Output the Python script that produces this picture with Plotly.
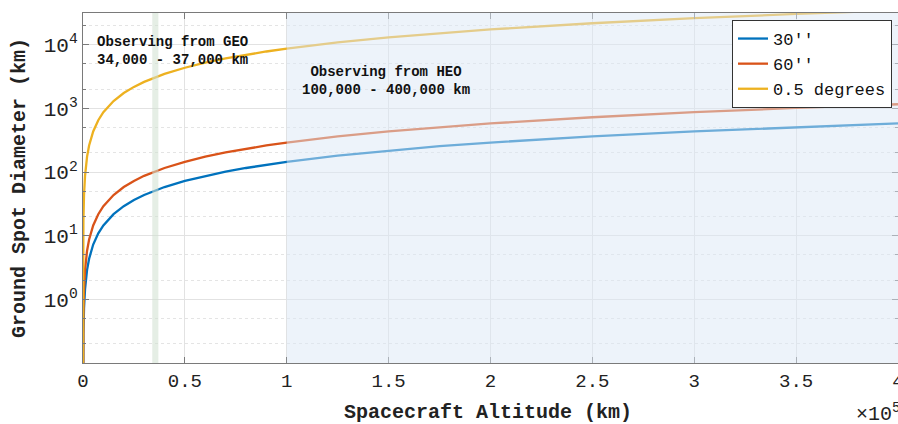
import plotly.graph_objects as go

# Spacecraft altitude samples (km)
altitude_km = [1, 2, 5, 10, 20, 50, 100, 200, 500, 1000, 2000, 3000, 5000, 7500,
               10000, 15000, 20000, 25000, 30000, 35000, 40000, 50000, 60000, 70000,
               80000, 90000, 100000, 125000, 150000, 175000, 200000, 250000, 300000,
               350000, 400000]

# Ground spot diameters (km)
diam_30arcsec = [0.00145, 0.00291, 0.00727, 0.0145, 0.0291, 0.0727, 0.145, 0.291, 0.727,
                 1.45, 2.91, 4.36, 7.27, 10.9, 14.5, 21.8, 29.1, 36.4, 43.6, 50.9, 58.2,
                 72.7, 87.3, 102, 116, 131, 145, 182, 218, 255, 291, 364, 436, 509, 582]
diam_60arcsec = [0.00291, 0.00582, 0.0145, 0.0291, 0.0582, 0.145, 0.291, 0.582, 1.45,
                 2.91, 5.82, 8.73, 14.5, 21.8, 29.1, 43.6, 58.2, 72.7, 87.3, 102, 116,
                 145, 175, 204, 233, 262, 291, 364, 436, 509, 582, 727, 873, 1018, 1164]
diam_half_deg = [0.0873, 0.175, 0.436, 0.873, 1.75, 4.36, 8.73, 17.5, 43.6, 87.3, 175,
                 262, 436, 654, 873, 1309, 1745, 2182, 2618, 3054, 3491, 4363, 5236,
                 6109, 6981, 7854, 8727, 10908, 13090, 15272, 17453, 21817, 26180,
                 30543, 34907]

series_names = ["30''", "60''", "0.5 degrees"]
series_colors = ["#0072BD", "#D95319", "#EDB120"]

x_tick_vals = [0, 50000, 100000, 150000, 200000, 250000, 300000, 350000, 400000]
x_tick_text = ["0", "0.5", "1", "1.5", "2", "2.5", "3", "3.5", "4"]
y_tick_vals = [1, 10, 100, 1000, 10000]
y_tick_text = ["10<sup>0</sup>", "10<sup>1</sup>", "10<sup>2</sup>", "10<sup>3</sup>", "10<sup>4</sup>"]

FONT = "Liberation Mono"

fig = go.Figure()
for name, ys, col in zip(series_names, [diam_30arcsec, diam_60arcsec, diam_half_deg], series_colors):
    fig.add_trace(go.Scatter(x=altitude_km, y=ys, mode="lines", name=name,
                             line=dict(color=col, width=2.3)))

# GEO band and HEO region
fig.add_shape(type="rect", xref="x", yref="paper", x0=34000, x1=37000, y0=0, y1=1,
              fillcolor="#cfe0cf", opacity=0.55, line_width=0, layer="above")
fig.add_shape(type="rect", xref="x", yref="paper", x0=100000, x1=400000, y0=0, y1=1,
              fillcolor="#dce8f5", opacity=0.5, line_width=0, layer="above")

axis_common = dict(showline=True, linecolor="#7a7a7a", linewidth=1, mirror="ticks",
                   ticks="inside", tickcolor="#7a7a7a", ticklen=6,
                   gridcolor="#e2e2e2", automargin=False, zeroline=False,
                   ticklabeloverflow="allow")

fig.update_xaxes(range=[0, 400000], tickvals=x_tick_vals, ticktext=x_tick_text,
                 tickfont=dict(family=FONT, size=19, color="#222"), **axis_common)
fig.update_yaxes(type="log", range=[-1, 4.5], tickvals=y_tick_vals, ticktext=y_tick_text,
                 tickfont=dict(family=FONT, size=21, color="#222"),
                 minor=dict(ticks="inside", ticklen=3, tickcolor="#7a7a7a", showgrid=True,
                            gridcolor="#e4e4e4", griddash="dot"),
                 **axis_common)

fig.add_annotation(text="<b>Observing from GEO<br>34,000 - 37,000 km</b>", xref="paper", yref="paper",
                   x=(95 - 83) / 815, y=(363 - 32) / 350, xanchor="left", yanchor="top",
                   align="left", showarrow=False, font=dict(family=FONT, size=14, color="#111"))
fig.add_annotation(text="<b>Observing from HEO<br>100,000 - 400,000 km</b>", xref="paper", yref="paper",
                   x=(386 - 83) / 815, y=(363 - 62) / 350, xanchor="center", yanchor="top",
                   align="center", showarrow=False, font=dict(family=FONT, size=14, color="#111"))
fig.add_annotation(text="<b>Spacecraft Altitude (km)</b>", xref="paper", yref="paper",
                   x=(488 - 83) / 815, y=-(412 - 363) / 350, xanchor="center", yanchor="middle",
                   showarrow=False, font=dict(family=FONT, size=20, color="#222"))
fig.add_annotation(text="<b>Ground Spot Diameter (km)</b>", xref="paper", yref="paper",
                   x=(19 - 83) / 815, y=(363 - 188) / 350, xanchor="center", yanchor="middle",
                   textangle=-90, showarrow=False, font=dict(family=FONT, size=20, color="#222"))
fig.add_annotation(text="×10<sup>5</sup>", xref="paper", yref="paper",
                   x=1.005, y=-(413 - 363) / 350, xanchor="right", yanchor="middle",
                   showarrow=False, font=dict(family=FONT, size=20, color="#222"))

fig.update_layout(
    width=898, height=424,
    margin=dict(l=83, r=0, t=13, b=61),
    paper_bgcolor="white", plot_bgcolor="white",
    font=dict(family=FONT, color="#222"),
    legend=dict(x=(892 - 83) / 815, y=(363 - 20) / 350, xanchor="right", yanchor="top",
                bgcolor="white", bordercolor="#333", borderwidth=1, itemwidth=30,
                font=dict(family=FONT, size=17, color="#111"), tracegroupgap=0),
    showlegend=True,
)

fig.write_html("out.html", config={"displayModeBar": False},
               post_script="document.body.style.margin='0';document.body.style.overflow='hidden';")
